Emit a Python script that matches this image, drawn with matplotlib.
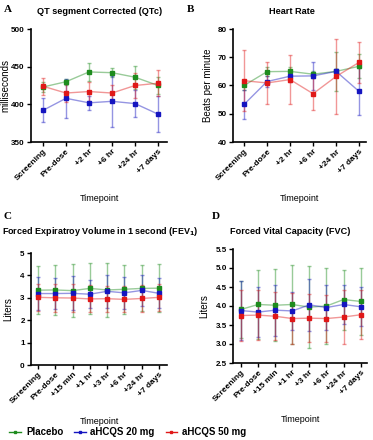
import numpy as np
from matplotlib import pyplot as plt
from matplotlib.lines import Line2D

plt.rcParams['font.family'] = ['Liberation Sans', 'DejaVu Sans']
plt.rcParams['font.weight'] = 'bold'

# timepoints
tp_short = ['Screening', 'Pre-dose', '+2 hr', '+6 hr', '+24 hr', '+7 days']
tp_long = ['Screening', 'Pre-dose', '+15 min', '+1 hr', '+3 hr', '+6 hr', '+24 hr', '+7 days']

# A: QTc (ms)
qtc_placebo = [423, 430, 443, 442, 436, 425]
qtc_placebo_err = [6, 4, 12, 6, 15, 11]
qtc_20 = [392, 408, 402, 404, 401, 387]
qtc_20_err = [16, 26, 9, 34, 18, 24]
qtc_50 = [424, 415, 417, 415, 425, 428]
qtc_50_err = [11, 12, 13, 11, 16, 17]

# B: heart rate (bpm)
hr_placebo = [60.0, 64.9, 65.0, 64.0, 65.0, 66.8]
hr_placebo_err = [1.5, 1.5, 1.5, 1.3, 7.0, 4.3]
hr_20 = [53.3, 61.4, 63.3, 63.4, 65.0, 57.9]
hr_20_err = [5.0, 2.0, 2.0, 5.0, 1.0, 8.4]
hr_50 = [61.7, 60.9, 62.1, 57.1, 63.2, 68.2]
hr_50_err = [10.8, 7.5, 8.6, 5.7, 13.3, 7.3]

# C: FEV1 (L)
fev_placebo = [3.34, 3.35, 3.32, 3.42, 3.35, 3.38, 3.42, 3.43]
fev_placebo_err = [1.07, 1.12, 1.17, 1.15, 1.2, 1.1, 1.03, 1.07]
fev_20 = [3.19, 3.19, 3.2, 3.16, 3.29, 3.22, 3.33, 3.2]
fev_20_err = [0.75, 0.7, 0.76, 0.62, 0.73, 0.72, 0.69, 0.67]
fev_50 = [3.02, 3.0, 2.99, 2.95, 2.96, 2.93, 2.97, 3.02]
fev_50_err = [0.6, 0.62, 0.62, 0.6, 0.58, 0.58, 0.62, 0.6]

# D: FVC (L)
fvc_placebo = [3.91, 4.04, 4.02, 4.04, 3.97, 4.0, 4.17, 4.12]
fvc_placebo_err = [0.76, 0.92, 0.95, 1.03, 1.08, 1.01, 0.79, 0.87]
fvc_20 = [3.88, 3.84, 3.89, 3.87, 4.03, 3.96, 4.04, 3.98]
fvc_20_err = [0.77, 0.66, 0.67, 0.51, 0.68, 0.59, 0.52, 0.51]
fvc_50 = [3.75, 3.76, 3.73, 3.67, 3.68, 3.67, 3.71, 3.77]
fvc_50_err = [0.67, 0.66, 0.63, 0.68, 0.64, 0.62, 0.71, 0.65]

groups = ['Placebo', 'aHCQS 20 mg', 'aHCQS 50 mg']
colors = ['#1e8c1e', '#1515c0', '#e01818']

W, H = 373, 440
fig = plt.figure(figsize=(W / 100, H / 100), dpi=100)


def px_axes(left, top, right, bottom):
    return fig.add_axes([left / W, 1 - bottom / H, (right - left) / W, (bottom - top) / H])


def panel(ax, labels, series, ylim, yticks, ylabel, xlim, ylab_x, yfmt='{:.0f}'):
    x = np.arange(len(labels))
    for (vals, errs), c in zip(series, colors):
        ax.errorbar(x, vals, yerr=errs, color=c, alpha=0.45, lw=1.0,
                    elinewidth=1.0, capsize=1.5, capthick=1.0, zorder=2)
        ax.plot(x, vals, color=c, marker='s', ms=3.2, lw=0, zorder=3)
    ax.set_xlim(*xlim)
    ax.set_ylim(*ylim)
    ax.set_yticks(yticks)
    ax.set_yticklabels([yfmt.format(v) for v in yticks], fontsize=5.8)
    ax.set_xticks(x)
    ax.set_xticklabels(labels, rotation=45, ha='right', rotation_mode='anchor', fontsize=6)
    ax.spines['top'].set_visible(False)
    ax.spines['right'].set_visible(False)
    for s in ('left', 'bottom'):
        ax.spines[s].set_linewidth(1.2)
    ax.tick_params(direction='out', length=3, width=1.0, pad=1.5)
    ax.set_ylabel(ylabel, fontsize=7)
    ax.yaxis.set_label_coords(ylab_x, 0.5)
    ax.set_xlabel('Timepoint', fontsize=6.5, labelpad=8)


axA = px_axes(31, 29, 167, 142)
panel(axA, tp_short,
      [(qtc_placebo, qtc_placebo_err), (qtc_20, qtc_20_err), (qtc_50, qtc_50_err)],
      (350, 500), [350, 400, 450, 500], 'milliseconds', (-0.52, 5.39), -0.15)

axB = px_axes(233, 29, 366, 142)
panel(axB, tp_short,
      [(hr_placebo, hr_placebo_err), (hr_20, hr_20_err), (hr_50, hr_50_err)],
      (40, 80), [40, 50, 60, 70, 80], 'Beats per minute', (-0.48, 5.3), -0.15)

axC = px_axes(31, 253, 167, 365)
panel(axC, tp_long,
      [(fev_placebo, fev_placebo_err), (fev_20, fev_20_err), (fev_50, fev_50_err)],
      (0, 5), [0, 1, 2, 3, 4, 5], 'Liters', (-0.4, 7.46), -0.13)

axD = px_axes(233, 249, 367, 363)
panel(axD, tp_long,
      [(fvc_placebo, fvc_placebo_err), (fvc_20, fvc_20_err), (fvc_50, fvc_50_err)],
      (2.5, 5.5), [2.5, 3.0, 3.5, 4.0, 4.5, 5.0, 5.5], 'Liters', (-0.47, 7.37), -0.18, '{:.1f}')

# titles and panel letters
fig.text(100 / W, 1 - 12 / H, 'QT segment Corrected (QTc)', ha='center', va='center', fontsize=6.6)
fig.text(292 / W, 1 - 12 / H, 'Heart Rate', ha='center', va='center', fontsize=6.6)
fig.text(2 / W, 1 - 232 / H, 'Forced Expiratroy Volume in 1 second (FEV$_\\mathbf{1}$)',
         ha='left', va='center', fontsize=6.5)
fig.text(290 / W, 1 - 232 / H, 'Forced Vital Capacity (FVC)', ha='center', va='center', fontsize=6.6)
for letter, lx, ly in [('A', 4, 10), ('B', 187, 10), ('C', 4, 216), ('D', 212, 216)]:
    fig.text(lx / W, 1 - ly / H, letter, family='Liberation Serif', fontsize=8,
             fontweight='bold', ha='left', va='center')

handles = [Line2D([], [], color=c, marker='s', ms=2, lw=1) for c in colors]
fig.legend(handles, groups, loc='center left', bbox_to_anchor=(0.015, 1 - 432 / H),
           ncol=3, frameon=False, fontsize=7, handlelength=1.2, columnspacing=1.1,
           handletextpad=0.5, borderaxespad=0)

fig.savefig('out.png', dpi=100)
